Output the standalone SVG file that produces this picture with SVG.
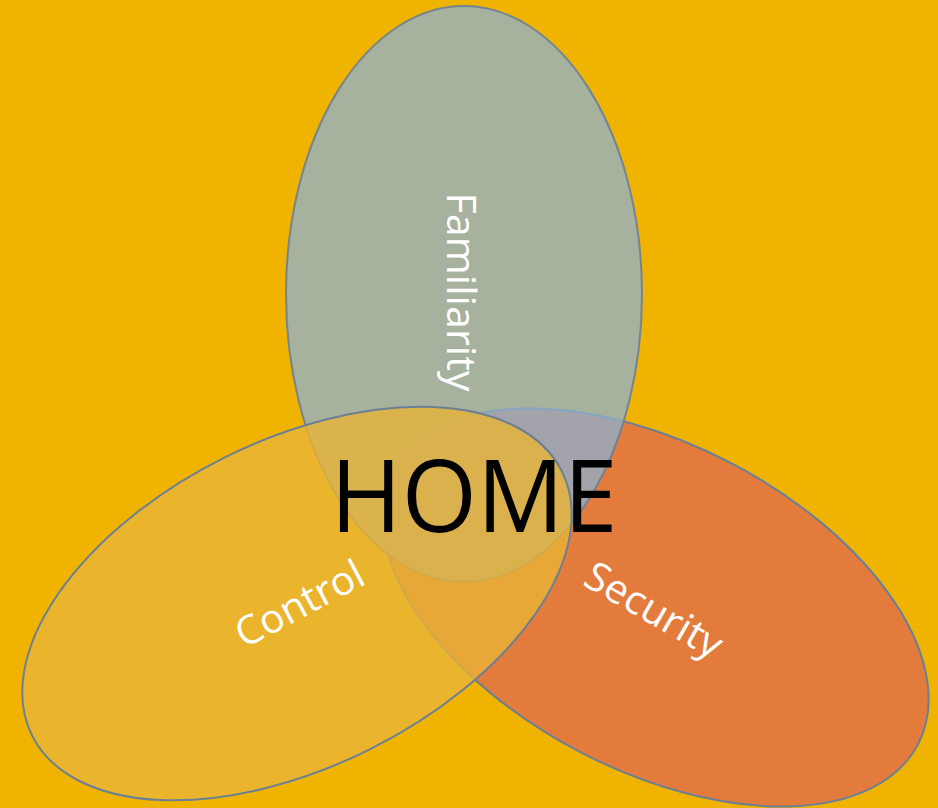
<svg xmlns="http://www.w3.org/2000/svg" width="938" height="808" viewBox="0 0 938 808">
<style>
.ell{stroke:#6B7F95;stroke-width:2}
.lbl{font-family:"Open Sans","Liberation Sans",sans-serif;font-size:40px;font-weight:400;fill:#FFFFFF;text-anchor:middle}
.home{font-family:"Open Sans","Liberation Sans",sans-serif;font-size:100px;fill:#000000;text-anchor:middle}
</style>
<rect x="0" y="0" width="938" height="808" fill="#F0B400"/>
<g id="security">
<ellipse class="ell" cx="655.5" cy="607.5" rx="296" ry="163" transform="rotate(27.5 655.5 607.5)" fill="#E37B3C"/>
</g>
<g id="familiarity">
<ellipse class="ell" cx="464" cy="294" rx="178" ry="288" fill="#8FAFCD" fill-opacity="0.77" stroke-opacity="0.9"/>
</g>
<g id="control">
<ellipse class="ell" cx="297" cy="603.5" rx="296" ry="163" transform="rotate(-26.5 297 603.5)" fill="#E9B437" fill-opacity="0.8"/>
</g>
<g id="labels">
<text class="lbl" transform="translate(447,292) rotate(90)" textLength="199" lengthAdjust="spacingAndGlyphs">Familiarity</text>
<text class="lbl" transform="translate(306,616) rotate(-28)" textLength="140" lengthAdjust="spacingAndGlyphs">Control</text>
<text class="lbl" transform="translate(647,622) rotate(30)" textLength="152" lengthAdjust="spacingAndGlyphs">Security</text>
<text class="home" x="474" y="532" textLength="287" lengthAdjust="spacingAndGlyphs">HOME</text>
</g>
<g id="connectors"></g>
</svg>
